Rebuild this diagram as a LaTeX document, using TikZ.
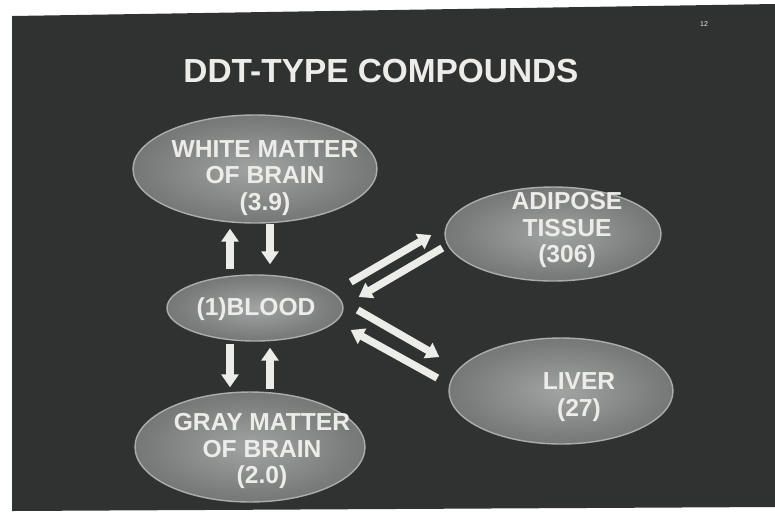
\documentclass[tikz,border=0pt]{standalone}
\usepackage{fontspec}
\setmainfont{Liberation Sans}
\usetikzlibrary{arrows.meta,shapes.geometric,calc}
\definecolor{slidegrey}{RGB}{48,50,50}
\definecolor{organedge}{RGB}{90,92,92}
\definecolor{organmid}{RGB}{122,124,124}
\definecolor{organcore}{RGB}{162,164,164}
\definecolor{chalkwhite}{RGB}{236,236,232}
\pgfdeclareradialshading{organglow}{\pgfpoint{0bp}{0bp}}{color(0bp)=(organcore); color(22bp)=(organmid); color(44bp)=(organedge); color(50bp)=(organedge)}

\begin{document}
\begin{tikzpicture}[x=0.02cm, y=-0.02cm,
    organ/.style={ellipse, inner sep=0pt, shading=organglow, draw=gray!65, line width=0.8pt},
    organtext/.style={align=center, text=chalkwhite, font=\fontsize{14}{15}\selectfont\bfseries},
    flow/.style={-{Triangle[width=0.34cm,length=0.26cm]}, line width=0.15cm, chalkwhite}]

    \useasboundingbox (0,0) rectangle (775,512);
    % Slide, photographed a little skewed
    \fill[slidegrey] (12,16) -- (775,4) -- (775,507) -- (12,511) -- cycle;

    % Title
    \node[font=\fontsize{19}{23}\selectfont\bfseries, text=chalkwhite] (title) at (381,71) {DDT-TYPE COMPOUNDS};
    \node[font=\fontsize{4}{5}\selectfont, text=chalkwhite] (slideno) at (704,24) {12};

    % Compartments
    \node[organ, minimum width=4.88cm, minimum height=2.16cm] (wm) at (255,169) {};
    \node[organtext] (wmtext) at (265,178) {WHITE MATTER\\OF BRAIN\\(3.9)};

    \node[organ, minimum width=3.52cm, minimum height=1.32cm] (blood) at (255,308) {};
    \node[organtext] (bloodtext) at (256,309) {(1)BLOOD};

    \node[organ, minimum width=4.6cm, minimum height=2.2cm] (gm) at (250,447) {};
    \node[organtext] (gmtext) at (262,451) {GRAY MATTER\\OF BRAIN\\(2.0)};

    \node[organ, minimum width=4.32cm, minimum height=1.88cm] (fat) at (553,234) {};
    \node[organtext] (fattext) at (567,230) {ADIPOSE\\TISSUE\\(306)};

    \node[organ, minimum width=4.48cm, minimum height=2.12cm] (liver) at (561,391) {};
    \node[organtext] (livertext) at (579,397) {LIVER\\(27)};

    % Exchange with the brain
    \draw[flow] ($(blood.north)+(-25,-5)$) -- ($(wm.south)+(-25,5)$);
    \draw[flow] ($(wm.south)+(15,0)$) -- ($(blood.north)+(15,-10)$);
    \draw[flow] ($(blood.south)+(-25,2)$) -- ($(gm.north)+(-20,-4)$);
    \draw[flow] ($(gm.north)+(20,-2)$) -- ($(blood.south)+(15,6)$);

    % Exchange with fat and liver
    \draw[flow] ($(blood.east)+(7,-26)$) -- ($(fat.west)+(-13,1)$);
    \draw[flow] ($(fat.west)+(-2,14)$) -- ($(blood.east)+(15,-11)$);
    \draw[flow] ($(blood.east)+(14,2)$) -- ($(liver.west)+(-9,-34)$);
    \draw[flow] ($(liver.west)+(-11,-13)$) -- ($(blood.east)+(7,22)$);
\end{tikzpicture}
\end{document}
